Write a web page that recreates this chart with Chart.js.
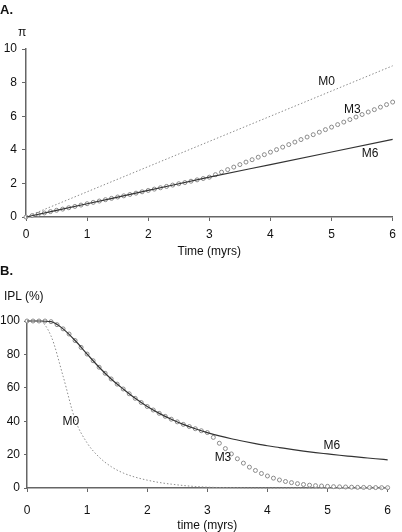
<!DOCTYPE html>
<html>
<head>
<meta charset="utf-8">
<script src="https://cdn.jsdelivr.net/npm/chart.js@4/dist/chart.umd.min.js"></script>
<style>
  body { margin: 0; background: #fff; font-family: "Liberation Sans", Arial, sans-serif; }
  .panel { position: absolute; left: 0; width: 402px; }
  .lbl { position: absolute; font-size: 12px; color: #111; white-space: nowrap; }
</style>
</head>
<body>
<div class="panel" style="top:0;height:260px"><canvas id="chartA"></canvas></div>
<div class="panel" style="top:260px;height:272px"><canvas id="chartB"></canvas></div>
<div class="lbl" style="left:0;top:2px;font-weight:bold;font-size:13px">A.</div>
<div class="lbl" style="left:18px;top:25px">π</div>
<div class="lbl" style="left:0;top:263px;font-weight:bold;font-size:13px">B.</div>
<div class="lbl" style="left:4px;top:289px">IPL (%)</div>
<script>
// time points (myrs)
const timeFine = [0, 0.1, 0.2, 0.3, 0.4, 0.5, 0.6, 0.7, 0.8, 0.9, 1, 1.1, 1.2, 1.3, 1.4, 1.5, 1.6, 1.7, 1.8, 1.9, 2, 2.1, 2.2, 2.3, 2.4, 2.5, 2.6, 2.7, 2.8, 2.9, 3, 3.1, 3.2, 3.3, 3.4, 3.5, 3.6, 3.7, 3.8, 3.9, 4, 4.1, 4.2, 4.3, 4.4, 4.5, 4.6, 4.7, 4.8, 4.9, 5, 5.1, 5.2, 5.3, 5.4, 5.5, 5.6, 5.7, 5.8, 5.9, 6];
const timeCoarse = [0, 0.2, 0.4, 0.6, 0.8, 1, 1.2, 1.4, 1.6, 1.8, 2, 2.2, 2.4, 2.6, 2.8, 3, 3.2, 3.4, 3.6, 3.8, 4, 4.2, 4.4, 4.6, 4.8, 5, 5.2, 5.4, 5.6, 5.8, 6];
const timeUnit = [0, 1, 2, 3, 4, 5, 6];

// A. pi
const piM0 = [0, 1.5, 3, 4.5, 6, 7.5, 9];
const piM6 = [0, 0.79, 1.58, 2.37, 3.12, 3.87, 4.62];
const piM3 = [0, 0.08, 0.16, 0.24, 0.32, 0.4, 0.47, 0.55, 0.63, 0.71, 0.79, 0.87, 0.95, 1.03, 1.11, 1.19, 1.26, 1.34, 1.42, 1.5, 1.58, 1.66, 1.74, 1.82, 1.9, 1.98, 2.05, 2.13, 2.21, 2.29, 2.37, 2.52, 2.67, 2.82, 2.97, 3.12, 3.27, 3.41, 3.56, 3.71, 3.86, 4.01, 4.16, 4.31, 4.46, 4.61, 4.76, 4.9, 5.05, 5.2, 5.35, 5.5, 5.65, 5.8, 5.95, 6.1, 6.25, 6.39, 6.54, 6.69, 6.84];

// B. IPL (%)
const iplM0 = [100, 100, 91, 67, 41, 27, 18.5, 12.8, 9, 6.5, 4.7, 3.3, 2.3, 1.5, 0.9, 0.5, 0.3, 0.2, 0.1, 0, 0, 0, 0, 0, 0, 0, 0, 0, 0, 0, 0];
const iplM6 = [100, 100, 99.6, 95.3, 88.3, 80.2, 72.3, 65.3, 59.3, 53.7, 48.8, 44.7, 41.2, 38.1, 35.5, 33.2, 31.2, 29.5, 28, 26.6, 25.3, 24.2, 23.1, 22.1, 21.2, 20.4, 19.6, 18.9, 18.2, 17.5, 16.9];
const iplM3 = [100, 100, 100, 100, 99.6, 97.8, 95.3, 92.2, 88.3, 84.2, 80.2, 76.2, 72.3, 68.7, 65.3, 62.2, 59.3, 56.4, 53.7, 51.2, 48.8, 46.7, 44.7, 42.9, 41.2, 39.6, 38.1, 36.8, 35.5, 34.3, 33.2, 30.3, 26.8, 23.6, 20.4, 17.5, 14.9, 12.5, 10.5, 8.7, 7.2, 5.9, 4.8, 3.9, 3.2, 2.6, 2.1, 1.7, 1.4, 1.2, 1, 0.8, 0.7, 0.6, 0.5, 0.4, 0.35, 0.3, 0.25, 0.2, 0.2];

// curve labels: [text, x, y] in data units
const labelsA = [['M0', 4.92, 8.04], ['M3', 5.34, 6.37], ['M6', 5.63, 3.75]];
const labelsB = [['M0', 0.73, 39.5], ['M3', 3.26, 18], ['M6', 5.07, 25.1]];

Chart.defaults.font.family = '"Liberation Sans", Arial, sans-serif';
Chart.defaults.font.size = 12;
Chart.defaults.color = '#111';

const pts = (xs, ys) => xs.map((x, i) => ({ x: x, y: ys[i] }));

const curveLabels = {
    id: 'curveLabels',
    afterDatasetsDraw(chart, args, opts) {
        const ctx = chart.ctx;
        ctx.save();
        ctx.font = '12px "Liberation Sans", Arial, sans-serif';
        ctx.fillStyle = '#111';
        ctx.textAlign = 'center';
        ctx.textBaseline = 'middle';
        opts.items.forEach(([txt, x, y]) => {
            ctx.fillText(txt, chart.scales.x.getPixelForValue(x), chart.scales.y.getPixelForValue(y));
        });
        ctx.restore();
    }
};

function makeChart(id, cfg) {
    return new Chart(document.getElementById(id), {
        type: 'scatter',
        data: {
            datasets: [
                {
                    label: 'M0',
                    data: cfg.m0,
                    showLine: true,
                    borderColor: '#8c8c8c',
                    borderWidth: 1,
                    borderDash: [1.5, 2],
                    pointRadius: 0,
                    cubicInterpolationMode: 'monotone',
                    clip: false
                },
                {
                    label: 'M6',
                    data: cfg.m6,
                    showLine: true,
                    borderColor: '#333',
                    borderWidth: 1.2,
                    pointRadius: 0,
                    cubicInterpolationMode: 'monotone',
                    clip: false
                },
                {
                    label: 'M3',
                    data: cfg.m3,
                    showLine: false,
                    pointRadius: 2,
                    pointBorderWidth: 1,
                    pointBorderColor: '#8a8a8a',
                    pointBackgroundColor: '#fff',
                    clip: false
                }
            ]
        },
        options: {
            responsive: true,
            maintainAspectRatio: false,
            animation: false,
            layout: { padding: cfg.padding },
            plugins: {
                legend: { display: false },
                tooltip: { enabled: false },
                curveLabels: { items: cfg.labels }
            },
            scales: {
                x: {
                    type: 'linear',
                    min: 0,
                    max: 6,
                    ticks: { stepSize: 1, padding: cfg.xPad, maxRotation: 0 },
                    grid: { drawOnChartArea: false, tickLength: 4, color: '#666' },
                    border: { color: '#666', width: 1.5 },
                    title: { display: true, text: cfg.xTitle, padding: { top: 0, bottom: cfg.titlePad }, font: { lineHeight: 1 } },
                    afterFit: (s) => { s.height = cfg.xHeight; }
                },
                y: {
                    min: 0,
                    max: cfg.yMax,
                    ticks: { stepSize: cfg.yStep, padding: cfg.yPad },
                    grid: { drawOnChartArea: false, tickLength: cfg.yTick, color: '#666' },
                    border: { color: '#666', width: 1.5 },
                    afterFit: (s) => { s.width = cfg.yWidth; }
                }
            }
        },
        plugins: [curveLabels]
    });
}

makeChart('chartA', {
    m0: pts(timeUnit, piM0),
    m6: pts(timeUnit, piM6),
    m3: pts(timeFine, piM3),
    labels: labelsA,
    padding: { top: 49, right: 4, left: 0, bottom: 0 },
    xTitle: 'Time (myrs)',
    xPad: 6, xHeight: 43, titlePad: 2,
    yMax: 10, yStep: 2, yPad: 5, yTick: 4, yWidth: 26
});

makeChart('chartB', {
    m0: pts(timeCoarse, iplM0),
    m6: pts(timeCoarse, iplM6),
    m3: pts(timeFine, iplM3),
    labels: labelsB,
    padding: { top: 61, right: 7, left: 0, bottom: 0 },
    xTitle: 'time (myrs)',
    xPad: 11, xHeight: 44, titlePad: 0,
    yMax: 100, yStep: 20, yPad: 4, yTick: 3, yWidth: 27
});
</script>
</body>
</html>
